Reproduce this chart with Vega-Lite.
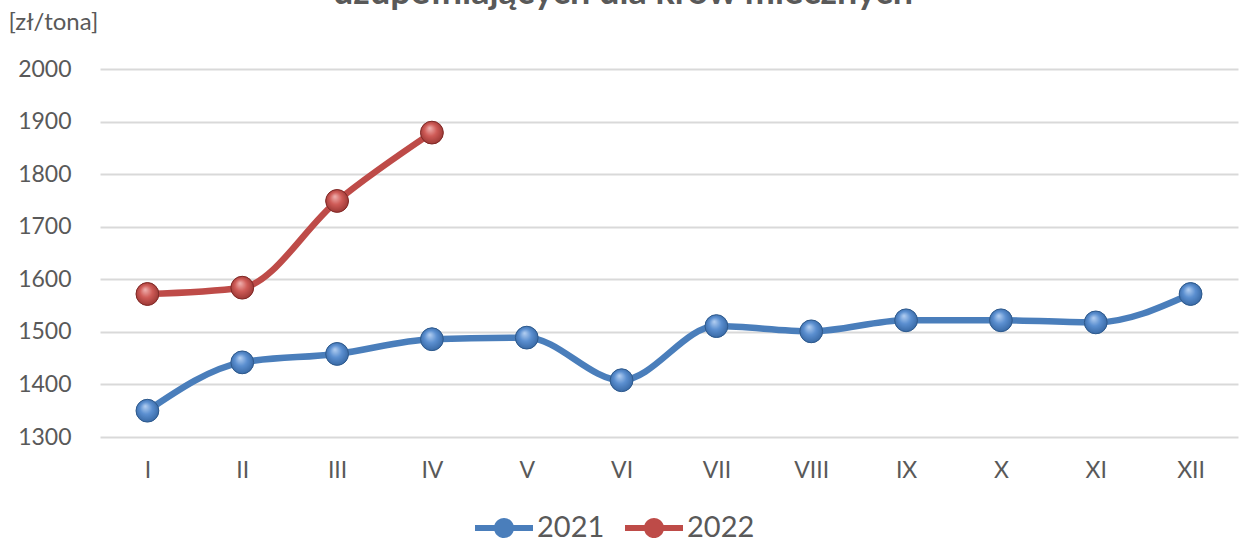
{
  "$schema": "https://vega.github.io/schema/vega-lite/v6.json",
  "width": 1138,
  "height": 368,
  "autosize": {"type": "none"},
  "padding": {"left": 100, "top": 69, "right": 4, "bottom": 110},
  "background": "white",
  "config": {
    "font": "Lato",
    "view": {"stroke": null},
    "axis": {"labelColor": "#595959", "titleColor": "#595959"}
  },
  "title": {
    "text": "uzupełniających dla krów mlecznych",
    "fontSize": 36,
    "fontWeight": "bold",
    "color": "#595959",
    "anchor": "middle",
    "frame": "bounds",
    "baseline": "alphabetic",
    "offset": -8,
    "dy": 22
  },
  "data": {
    "values": [
      {"month": "I", "year": "2021", "price": 1350},
      {"month": "II", "year": "2021", "price": 1442},
      {"month": "III", "year": "2021", "price": 1458},
      {"month": "IV", "year": "2021", "price": 1486},
      {"month": "V", "year": "2021", "price": 1489},
      {"month": "VI", "year": "2021", "price": 1408},
      {"month": "VII", "year": "2021", "price": 1511},
      {"month": "VIII", "year": "2021", "price": 1501},
      {"month": "IX", "year": "2021", "price": 1522},
      {"month": "X", "year": "2021", "price": 1522},
      {"month": "XI", "year": "2021", "price": 1518},
      {"month": "XII", "year": "2021", "price": 1572},
      {"month": "I", "year": "2022", "price": 1572},
      {"month": "II", "year": "2022", "price": 1584},
      {"month": "III", "year": "2022", "price": 1749},
      {"month": "IV", "year": "2022", "price": 1879}
    ]
  },
  "encoding": {
    "x": {
      "field": "month",
      "type": "ordinal",
      "sort": ["I", "II", "III", "IV", "V", "VI", "VII", "VIII", "IX", "X", "XI", "XII"],
      "scale": {"type": "point", "padding": 0.5},
      "axis": {
        "title": null,
        "labelAngle": 0,
        "labelFontSize": 23,
        "labelPadding": 22,
        "ticks": false,
        "domain": false,
        "grid": false
      }
    },
    "y": {
      "field": "price",
      "type": "quantitative",
      "scale": {"domain": [1300, 2000], "nice": false, "zero": false},
      "axis": {
        "values": [1300, 1400, 1500, 1600, 1700, 1800, 1900, 2000],
        "format": "d",
        "title": "[zł/tona]",
        "titleAngle": 0,
        "titleAlign": "left",
        "titleBaseline": "middle",
        "titleX": -92,
        "titleY": -47,
        "titleFontSize": 24,
        "titleFontWeight": "normal",
        "labelFontSize": 23,
        "labelPadding": 29,
        "ticks": false,
        "domain": false,
        "gridColor": "#d9d9d9",
        "gridWidth": 2
      }
    }
  },
  "layer": [
    {
      "mark": {"type": "line", "interpolate": "monotone", "strokeWidth": 6.5, "strokeCap": "round"},
      "encoding": {
        "detail": {"field": "year", "type": "nominal"},
        "stroke": {
          "condition": {"test": "datum.year === '2021'", "value": "#4A7EBB"},
          "value": "#BE4B48"
        }
      }
    },
    {
      "mark": {"type": "point", "filled": true, "size": 520, "opacity": 1, "strokeWidth": 0},
      "encoding": {
        "color": {
          "field": "year",
          "type": "nominal",
          "scale": {"domain": ["2021", "2022"], "range": ["#4A7EBB", "#BE4B48"]},
          "legend": {
            "title": "",
            "orient": "none",
            "legendX": 375,
            "legendY": 430,
            "direction": "horizontal",
            "symbolType": "M-1,-0.1H-0.33A0.345,0.345,0,0,1,0.33,-0.1H1V0.1H0.33A0.345,0.345,0,0,1,-0.33,0.1H-1Z",
            "symbolSize": 3364,
            "symbolStrokeWidth": 0,
            "symbolOpacity": 1,
            "labelFontSize": 29,
            "labelColor": "#595959",
            "labelOffset": 4,
            "columnPadding": 20
          }
        }
      }
    },
    {
      "mark": {"type": "point", "filled": true, "size": 520, "opacity": 1, "strokeWidth": 1},
      "encoding": {
        "fill": {
          "condition": {
            "test": "datum.year === '2021'",
            "value": {
              "gradient": "radial",
              "x1": 0.4, "y1": 0.3, "r1": 0,
              "x2": 0.5, "y2": 0.5, "r2": 0.6,
              "stops": [
                {"offset": 0, "color": "#b5d0f2"},
                {"offset": 0.45, "color": "#5b8fd0"},
                {"offset": 1, "color": "#2f5f9a"}
              ]
            }
          },
          "value": {
            "gradient": "radial",
            "x1": 0.4, "y1": 0.3, "r1": 0,
            "x2": 0.5, "y2": 0.5, "r2": 0.6,
            "stops": [
              {"offset": 0, "color": "#f0b3b1"},
              {"offset": 0.45, "color": "#cf5b57"},
              {"offset": 1, "color": "#8e2f2c"}
            ]
          }
        },
        "stroke": {
          "condition": {"test": "datum.year === '2021'", "value": "#2f5a8c"},
          "value": "#7f2a27"
        }
      }
    }
  ]
}
